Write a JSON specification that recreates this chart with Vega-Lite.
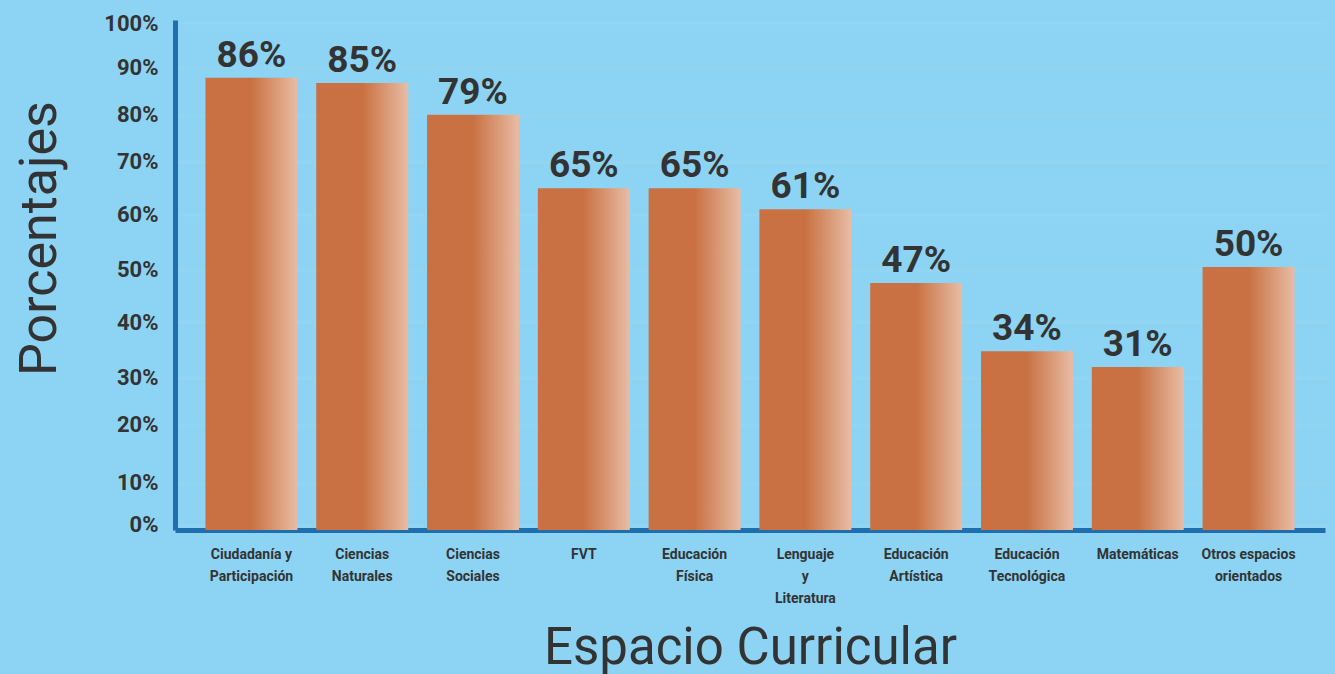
{
  "$schema": "https://vega.github.io/schema/vega-lite/v6.json",
  "width": 1150,
  "height": 510,
  "autosize": {"type": "none"},
  "padding": {"left": 175, "top": 20, "right": 10, "bottom": 144},
  "background": "#8dd3f3",
  "config": {
    "view": {"stroke": null},
    "font": "Roboto"
  },
  "data": {
    "values": [
      {"espacio": "Ciudadanía y|Participación", "pct": 86},
      {"espacio": "Ciencias|Naturales", "pct": 85},
      {"espacio": "Ciencias|Sociales", "pct": 79},
      {"espacio": "FVT", "pct": 65},
      {"espacio": "Educación|Física", "pct": 65},
      {"espacio": "Lenguaje|y|Literatura", "pct": 61},
      {"espacio": "Educación|Artística", "pct": 47},
      {"espacio": "Educación|Tecnológica", "pct": 34},
      {"espacio": "Matemáticas", "pct": 31},
      {"espacio": "Otros espacios|orientados", "pct": 50}
    ]
  },
  "encoding": {
    "x": {
      "field": "espacio",
      "type": "nominal",
      "sort": null,
      "scale": {"paddingInner": 0.17, "paddingOuter": 0.275},
      "axis": {
        "title": "Espacio Curricular",
        "titleFont": "Roboto",
        "titleFontSize": 51,
        "titleFontWeight": "normal",
        "titleColor": "#333333",
        "titleBaseline": "alphabetic",
        "titleY": 133,
        "labelExpr": "split(datum.label, '|')",
        "labelAngle": 0,
        "labelFont": "Roboto",
        "labelFontSize": 14,
        "labelFontWeight": "bold",
        "labelColor": "#333333",
        "labelLineHeight": 22,
        "labelPadding": 17,
        "labelBaseline": "top",
        "ticks": false,
        "domainColor": "#1f6fae",
        "domainWidth": 5
      }
    },
    "y": {
      "field": "pct",
      "type": "quantitative",
      "scale": {"domain": [0, 97], "nice": false},
      "axis": {
        "title": "Porcentajes",
        "titleFont": "Roboto",
        "titleFontSize": 52,
        "titleFontWeight": "normal",
        "titleColor": "#333333",
        "titleAngle": -90,
        "titleAlign": "center",
        "titleBaseline": "alphabetic",
        "titleX": -120,
        "titleY": 218,
        "values": [1, 9, 20, 29, 39.5, 49.5, 60, 70, 79, 88, 96.4],
        "labelExpr": "format(round(datum.value / 10) * 10, 'd') + '%'",
        "labelFont": "Roboto",
        "labelFontSize": 22,
        "labelFontWeight": "bold",
        "labelColor": "#333333",
        "labelPadding": 17,
        "ticks": false,
        "grid": true,
        "gridColor": "#ffffff",
        "gridOpacity": 0.05,
        "gridWidth": 3,
        "domainColor": "#1f6fae",
        "domainWidth": 5
      }
    }
  },
  "layer": [
    {
      "mark": {
        "type": "bar",
        "color": {
          "gradient": "linear",
          "x1": 0, "y1": 0, "x2": 1, "y2": 0,
          "stops": [
            {"offset": 0, "color": "#c97142"},
            {"offset": 0.5, "color": "#c97142"},
            {"offset": 1, "color": "#e8bda5"}
          ]
        }
      }
    },
    {
      "mark": {
        "type": "text",
        "font": "Roboto",
        "fontSize": 37,
        "fontWeight": "bold",
        "color": "#333333",
        "baseline": "alphabetic",
        "dy": -11,
        "text": {"expr": "datum.pct + '%'"}
      }
    }
  ]
}
